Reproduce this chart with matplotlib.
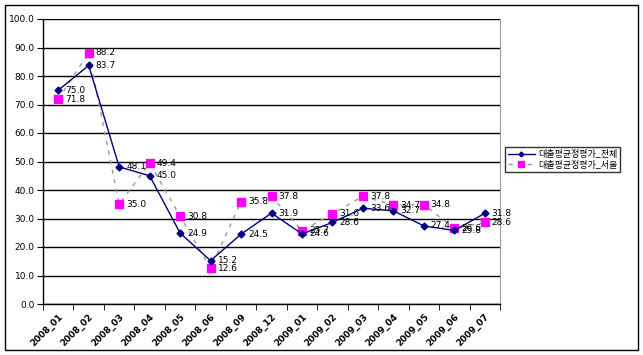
import matplotlib
matplotlib.use("Agg")
import matplotlib.pyplot as plt
from matplotlib.patches import Rectangle
import numpy as np

plt.rcParams["font.family"] = ["Noto Sans CJK KR", "DejaVu Sans"]

# ===== データ =====
months = ["2008_01", "2008_02", "2008_03", "2008_04", "2008_05", "2008_06",
          "2008_09", "2008_12", "2009_01", "2009_02", "2009_03", "2009_04",
          "2009_05", "2009_06", "2009_07"]
total = [75.0, 83.7, 48.1, 45.0, 24.9, 15.2, 24.5, 31.9, 24.6, 28.6, 33.6,
         32.7, 27.4, 25.8, 31.8]
seoul = [71.8, 88.2, 35.0, 49.4, 30.8, 12.6, 35.8, 37.8, 25.7, 31.6, 37.8,
         34.7, 34.8, 26.6, 28.6]
label_total = "대출평균정평가_전체"
label_seoul = "대출평균정평가_서울"

fig = plt.figure(figsize=(6.43, 3.55), dpi=100)
ax = fig.add_axes([43 / 643, 51 / 355, 457 / 643, 285 / 355])

# 外枠
fig.patches.append(Rectangle((5 / 643, 5 / 355), 633 / 643, 345 / 355,
                             transform=fig.transFigure, fill=False,
                             edgecolor="black", linewidth=1.0))

x = np.arange(len(months))

ax.plot(x, seoul, linestyle=(0, (3, 4)), color="#9a9a9a", linewidth=1.0,
        marker="s", markersize=5.5, markerfacecolor="#ff00ff",
        markeredgecolor="#ff00ff", label=label_seoul, zorder=3)
ax.plot(x, total, linestyle="-", color="#000080", linewidth=1.0,
        marker="D", markersize=3.5, markerfacecolor="#000080",
        markeredgecolor="#000080", label=label_total, zorder=4)

# データラベル（右側）
for xi, v in zip(x, total):
    ax.annotate(f"{v:.1f}", (xi, v), xytext=(5, 0), textcoords="offset points",
                va="center", ha="left", fontsize=6.5, family="DejaVu Sans",
                zorder=5)
for xi, v in zip(x, seoul):
    ax.annotate(f"{v:.1f}", (xi, v), xytext=(5, 0), textcoords="offset points",
                va="center", ha="left", fontsize=6.5, family="DejaVu Sans",
                zorder=5)

ax.set_xlim(-0.5, len(months) - 0.5)
ax.set_ylim(0, 100)
ax.set_yticks(np.arange(0, 101, 10))
ax.set_yticklabels([f"{v:.1f}" for v in np.arange(0, 101, 10)],
                   fontsize=6.5, family="DejaVu Sans")
ax.set_xticks(x)
ax.set_xticklabels(months, rotation=45, ha="right", rotation_mode="anchor",
                   fontsize=6.5, family="DejaVu Sans", fontweight="bold")
ax.tick_params(axis="x", which="major", length=0, pad=6)
ax.set_xticks(np.arange(-0.5, len(months), 1), minor=True)
ax.tick_params(axis="x", which="minor", length=4, direction="out")
ax.tick_params(axis="y", length=4, direction="out", pad=2)

ax.grid(axis="y", color="black", linewidth=1.0)
ax.set_axisbelow(True)
ax.spines["top"].set_visible(False)
ax.spines["right"].set_color("#9a9a9a")
for s in ["left", "bottom"]:
    ax.spines[s].set_linewidth(1.0)

handles, labels = ax.get_legend_handles_labels()
leg = fig.legend(handles[::-1], labels[::-1], loc="upper left",
                 bbox_to_anchor=(505 / 643, 1 - 147 / 355), fontsize=6.5,
                 frameon=True, fancybox=False, edgecolor="black",
                 borderpad=0.3, labelspacing=0.2, handlelength=3.0,
                 handletextpad=0.4, borderaxespad=0, markerscale=0.7)
leg.get_frame().set_linewidth(1.0)

fig.savefig("out.png", dpi=100)
